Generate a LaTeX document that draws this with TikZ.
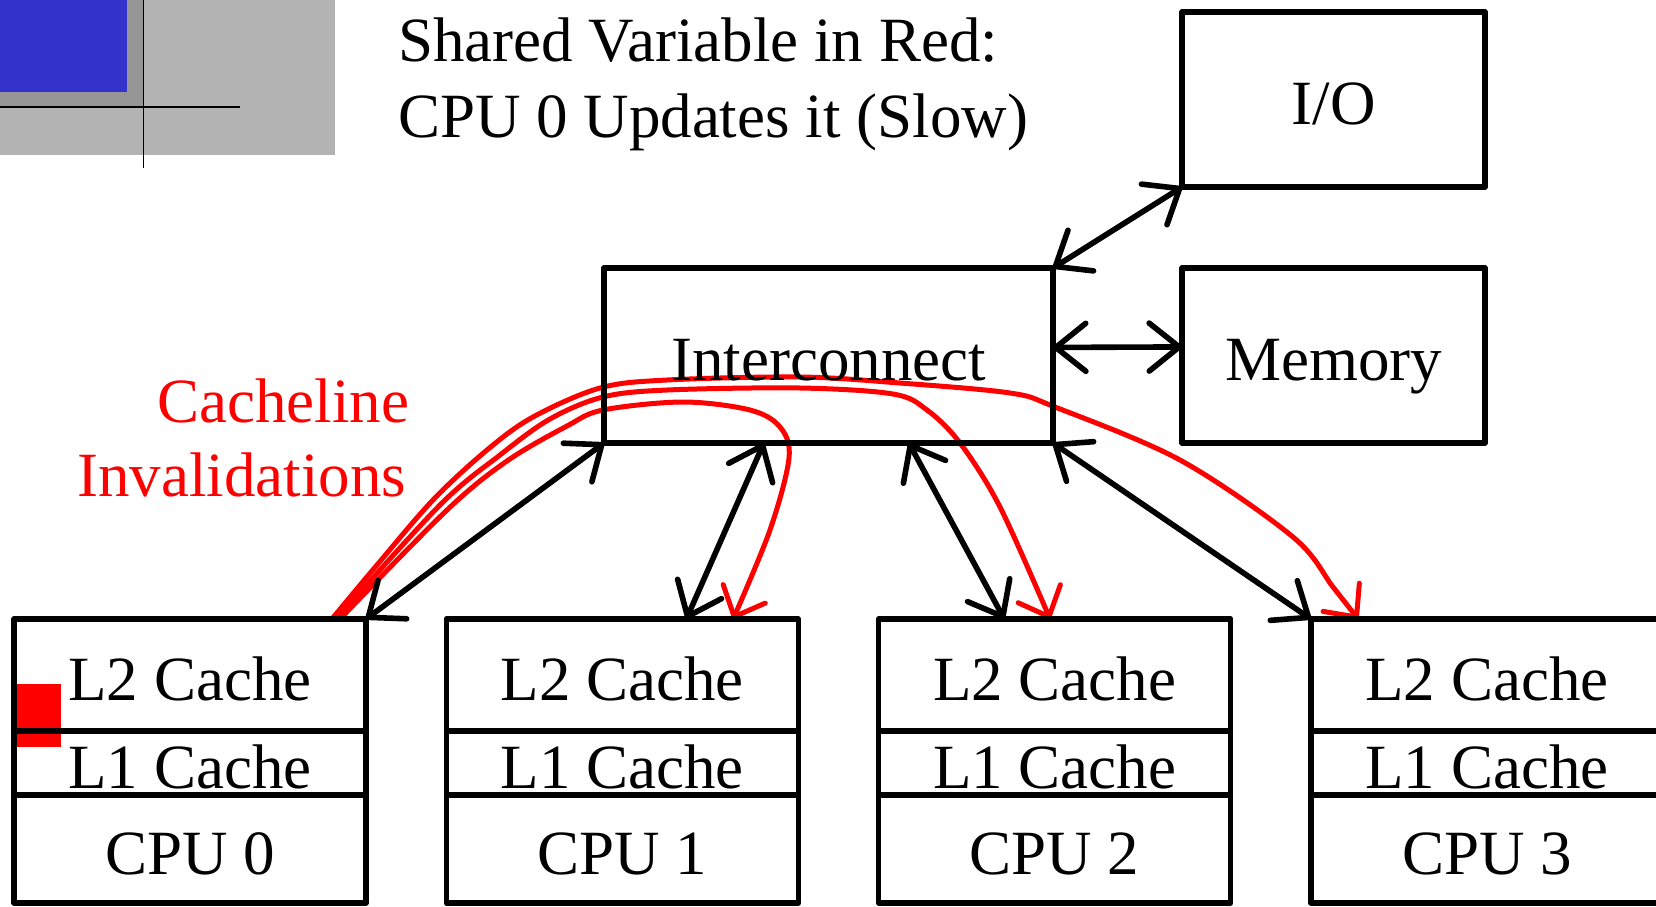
\documentclass[tikz,border=0pt]{standalone}
\usepackage{fontspec}
\setmainfont{Liberation Serif}
\usetikzlibrary{arrows.meta,calc}
\definecolor{slidegray}{RGB}{179,179,179}
\definecolor{slidedark}{RGB}{150,150,150}
\definecolor{slideblue}{RGB}{51,51,204}
\definecolor{sharedred}{RGB}{255,0,0}
\tikzset{
  box/.style={draw, line width=2.8pt, line join=round, inner sep=0pt, outer sep=0pt,
              text height=25pt, text depth=0pt},
  txt/.style={inner sep=0pt, outer sep=0pt},
  link/.style={line width=2.8pt, line cap=round,
               {Straight Barb[length=15pt,width=24pt,round]}-{Straight Barb[length=15pt,width=24pt,round]}},
  inval/.style={sharedred, line width=2.5pt, line cap=round,
                -{Straight Barb[length=12.5pt,width=23pt,round]}},
}
\begin{document}
\begin{tikzpicture}[x=0.5pt, y=-0.5pt, font=\fontsize{31.5pt}{38pt}\selectfont]
\useasboundingbox (0,0) rectangle (1656,906);

% slide corner ornament
\fill[slidegray] (0,0) rectangle (335,155);
\fill[slidedark] (0,0) rectangle (143,107);
\fill[slideblue] (0,0) rectangle (127,92);
\draw[line width=0.9pt] (143.5,0) -- (143.5,168);
\draw[line width=0.9pt] (0,107) -- (240,107);

% heading
\node[txt, anchor=base west] (title1) at (398,61) {Shared Variable in Red:};
\node[txt, anchor=base west] (title2) at (398,137) {CPU 0 Updates it (Slow)};

% the shared variable held in CPU 0's caches
\fill[sharedred] (16,684) rectangle (61,747);

% box geometry (invisible helpers for coordinates)
\foreach \i/\x in {0/190,1/622.3,2/1054.6,3/1486.9}{
  \path (\x,675) node[minimum width=176pt, minimum height=56pt, inner sep=0pt, outer sep=0pt] (g\i) {};
}

% endpoints of the invalidation messages
\coordinate (s1) at ($(g0.north west)!0.926!(g0.north east)$);
\coordinate (s2) at ($(g0.north west)!0.915!(g0.north east)$);
\coordinate (s3) at ($(g0.north west)!0.903!(g0.north east)$);
\coordinate (t1) at ($(g1.north west)!0.815!(g1.north east)$);
\coordinate (t2) at ($(g2.north west)!0.487!(g2.north east)$);
\coordinate (t3) at ($(g3.north west)!0.134!(g3.north east)$);

% cacheline invalidations
\draw[inval] plot[smooth, tension=0.55] coordinates {(s1) (447,510) (507,461) (567,426) (603,410) (683,402) (750,410) (780,427) (789,458) (770,530) (t1)};
\draw[inval] plot[smooth, tension=0.55] coordinates {(s2) (440,505) (500,455) (550,419) (603,397) (667,390) (800,388) (893,394) (927,410) (960,443) (1000,507) (t2)};
\draw[inval] plot[smooth, tension=0.55] coordinates {(s3) (377,565) (433,500) (487,450) (533,417) (600,388) (667,380) (800,377) (900,383) (1010,393) (1055,407) (1180,460) (1293,537) (1333,587) (t3)};

\node[txt, anchor=base east, text=sharedred] (cl1) at (409,422) {Cacheline};
\node[txt, anchor=base east, text=sharedred] (cl2) at (406,496) {Invalidations};

% system boxes
\node[box, minimum width=151.5pt, minimum height=87.5pt] (io) at (1333.5,99.5) {I/O};
\node[box, minimum width=151.5pt, minimum height=87.5pt] (mem) at (1333.5,355.5) {Memory};
\node[box, minimum width=224.5pt, minimum height=87.5pt] (ic) at (828.5,355.5) {Interconnect};

\foreach \i/\x in {0/190,1/622.3,2/1054.6,3/1486.9}{
  \node[box, minimum width=176pt, minimum height=56pt] (l2\i) at (\x,675) {L2 Cache};
  \node[box, minimum width=176pt, minimum height=32pt] (l1\i) at (\x,763) {L1 Cache};
  \node[box, minimum width=176pt, minimum height=54pt] (cpu\i) at (\x,849) {CPU \i};
}

% attachment points on the interconnect and caches
\coordinate (ic1) at ($(ic.south west)!0.356!(ic.south east)$);
\coordinate (ic2) at ($(ic.south west)!0.679!(ic.south east)$);
\coordinate (c1) at ($(l21.north west)!0.682!(l21.north east)$);
\coordinate (c2) at ($(l22.north west)!0.357!(l22.north east)$);
\coordinate (icm) at ($(ic.north east)!0.454!(ic.south east)$);
\coordinate (memw) at ($(mem.north west)!0.451!(mem.south west)$);

% links
\draw[link] (ic.south west) -- (l20.north east);
\draw[link] (ic1) -- (c1);
\draw[link] (ic2) -- (c2);
\draw[link] (ic.south east) -- (l23.north west);
\draw[link] (ic.north east) -- (io.south west);
\draw[link] (icm) -- (memw);
\end{tikzpicture}
\end{document}
